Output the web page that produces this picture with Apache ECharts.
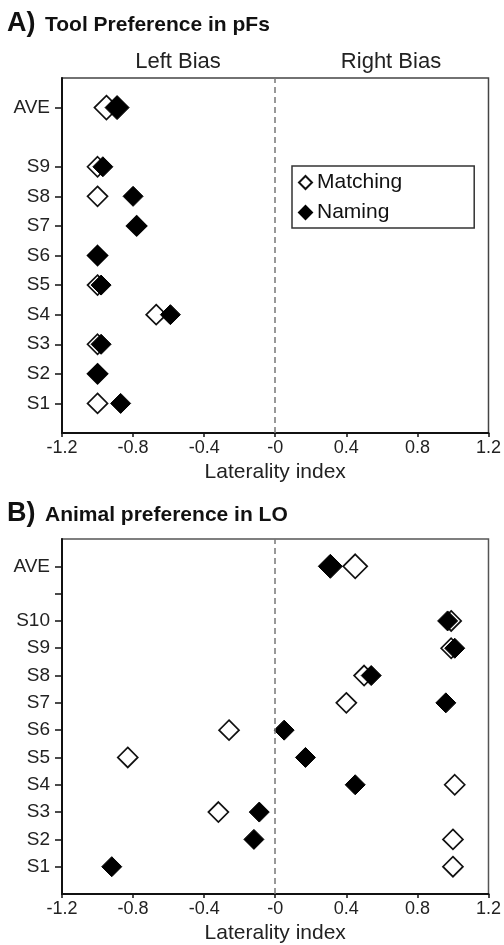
<!DOCTYPE html>
<html>
<head>
<meta charset="utf-8">
<script src="https://cdn.jsdelivr.net/npm/echarts@6/dist/echarts.min.js"></script>
<style>html,body{margin:0;padding:0;background:#fff}#c{width:504px;height:945px}</style>
</head>
<body>
<div id="c"></div>
<script>
// ---- Data ----
const subjectsA = ['S1','S2','S3','S4','S5','S6','S7','S8','S9'];
const matchingA = [-1.00, -1.00, -1.00, -0.67, -1.00, -1.00, -0.78, -1.00, -1.00];
const namingA   = [-0.87, -1.00, -0.98, -0.59, -0.98, -1.00, -0.78, -0.80, -0.97];
const aveMatchingA = -0.95;
const aveNamingA = -0.89;

const subjectsB = ['S1','S2','S3','S4','S5','S6','S7','S8','S9','S10'];
const matchingB = [1.00, 1.00, -0.32, 1.01, -0.83, -0.26, 0.40, 0.50, 0.99, 0.99];
const namingB   = [-0.92, -0.12, -0.09, 0.45, 0.17, 0.05, 0.96, 0.54, 1.01, 0.97];
const aveMatchingB = 0.45;
const aveNamingB = 0.31;

const legendNames = ['Matching', 'Naming'];

// ---- Build ----
const FONT = '"Liberation Sans", Arial, sans-serif';
function panelData(subjects, vals, ave) {
  const n = subjects.length;
  const d = vals.map((v, i) => ({ value: [v, i + 1], symbolSize: 20 }));
  d.push({ value: [ave, n + 2], symbolSize: 24 });
  return d;
}
function labelMap(subjects) {
  const m = {};
  subjects.forEach((s, i) => m[i + 1] = s);
  m[subjects.length + 2] = 'AVE';
  return m;
}
function tickValues(subjects, withGap) {
  const t = subjects.map((s, i) => i + 1);
  if (withGap) t.push(subjects.length + 1);
  t.push(subjects.length + 2);
  return t;
}
const mapA = labelMap(subjectsA), mapB = labelMap(subjectsB);

function xAxisCfg(gridIndex) {
  return {
    type: 'value', gridIndex, min: -1.2, max: 1.2, interval: 0.4,
    splitLine: { show: false },
    axisLine: { onZero: false, lineStyle: { color: '#111', width: 2 } },
    axisTick: { show: true, length: 4, lineStyle: { color: '#111', width: 1.5 } },
    axisLabel: {
      color: '#222', fontSize: 18, fontFamily: FONT, margin: 6,
      formatter: v => Math.abs(v) < 1e-9 ? '-0' : v.toFixed(1)
    },
    name: 'Laterality index', nameLocation: 'middle', nameGap: 29,
    nameTextStyle: { color: '#222', fontSize: 21, fontFamily: FONT }
  };
}
function yAxisCfg(gridIndex, subjects, map, withGap) {
  const tv = tickValues(subjects, withGap);
  return {
    type: 'value', gridIndex, min: 0, max: subjects.length + 3,
    splitLine: { show: false },
    axisLine: { onZero: false, lineStyle: { color: '#111', width: 2 } },
    axisTick: { show: true, length: 7, customValues: tv, lineStyle: { color: '#111', width: 1.5 } },
    axisLabel: {
      customValues: tv, color: '#222', fontSize: 19, fontFamily: FONT, margin: 12,
      formatter: v => map[Math.round(v)] || ''
    }
  };
}
const openStyle = { color: '#fff', borderColor: '#111', borderWidth: 1.7, opacity: 1 };
const fillStyle = { color: '#000', borderColor: '#000', borderWidth: 1, opacity: 1 };
const dashLine = {
  silent: true, symbol: 'none', label: { show: false },
  lineStyle: { type: [6, 4], color: '#777', width: 1.5 },
  data: [{ xAxis: 0 }]
};

const option = {
  animation: false,
  backgroundColor: '#fff',
  grid: [
    { left: 62, right: 13, top: 78, height: 355, show: true, borderColor: '#444', borderWidth: 1.5 },
    { left: 62, right: 13, top: 539, height: 358, show: true, borderColor: '#555', borderWidth: 1.5 }
  ],
  xAxis: [xAxisCfg(0), xAxisCfg(1)],
  yAxis: [yAxisCfg(0, subjectsA, mapA, false), yAxisCfg(1, subjectsB, mapB, true)],
  legend: {
    left: 292, top: 166, orient: 'vertical',
    data: legendNames,
    itemWidth: 13, itemHeight: 13, itemGap: 9,
    padding: [6, 72, 5, 6],
    borderColor: '#333', borderWidth: 1.5,
    textStyle: { fontSize: 21, color: '#111', fontFamily: FONT },
    icon: 'diamond'
  },
  graphic: [
    { type: 'text', left: 7, top: 10, style: { text: 'A)', font: 'bold 27px ' + FONT, fill: '#111' } },
    { type: 'text', left: 45, top: 15, style: { text: 'Tool Preference in pFs', font: 'bold 21px ' + FONT, fill: '#111' } },
    { type: 'text', x: 178, y: 62, style: { text: 'Left Bias', font: '22px ' + FONT, fill: '#222', align: 'center', verticalAlign: 'middle' } },
    { type: 'text', x: 391, y: 62, style: { text: 'Right Bias', font: '22px ' + FONT, fill: '#222', align: 'center', verticalAlign: 'middle' } },
    { type: 'text', left: 7, top: 500, style: { text: 'B)', font: 'bold 27px ' + FONT, fill: '#111' } },
    { type: 'text', left: 45, top: 505, style: { text: 'Animal preference in LO', font: 'bold 21px ' + FONT, fill: '#111' } }
  ],
  series: [
    { name: legendNames[0], type: 'scatter', xAxisIndex: 0, yAxisIndex: 0, symbol: 'diamond',
      itemStyle: openStyle, data: panelData(subjectsA, matchingA, aveMatchingA), markLine: dashLine, z: 2 },
    { name: legendNames[1], type: 'scatter', xAxisIndex: 0, yAxisIndex: 0, symbol: 'diamond',
      itemStyle: fillStyle, data: panelData(subjectsA, namingA, aveNamingA), z: 3 },
    { name: legendNames[0], type: 'scatter', xAxisIndex: 1, yAxisIndex: 1, symbol: 'diamond',
      itemStyle: openStyle, data: panelData(subjectsB, matchingB, aveMatchingB), markLine: dashLine, z: 2 },
    { name: legendNames[1], type: 'scatter', xAxisIndex: 1, yAxisIndex: 1, symbol: 'diamond',
      itemStyle: fillStyle, data: panelData(subjectsB, namingB, aveNamingB), z: 3 }
  ]
};
const chart = echarts.init(document.getElementById('c'), null, { renderer: 'canvas' });
chart.setOption(option);
</script>
</body>
</html>
